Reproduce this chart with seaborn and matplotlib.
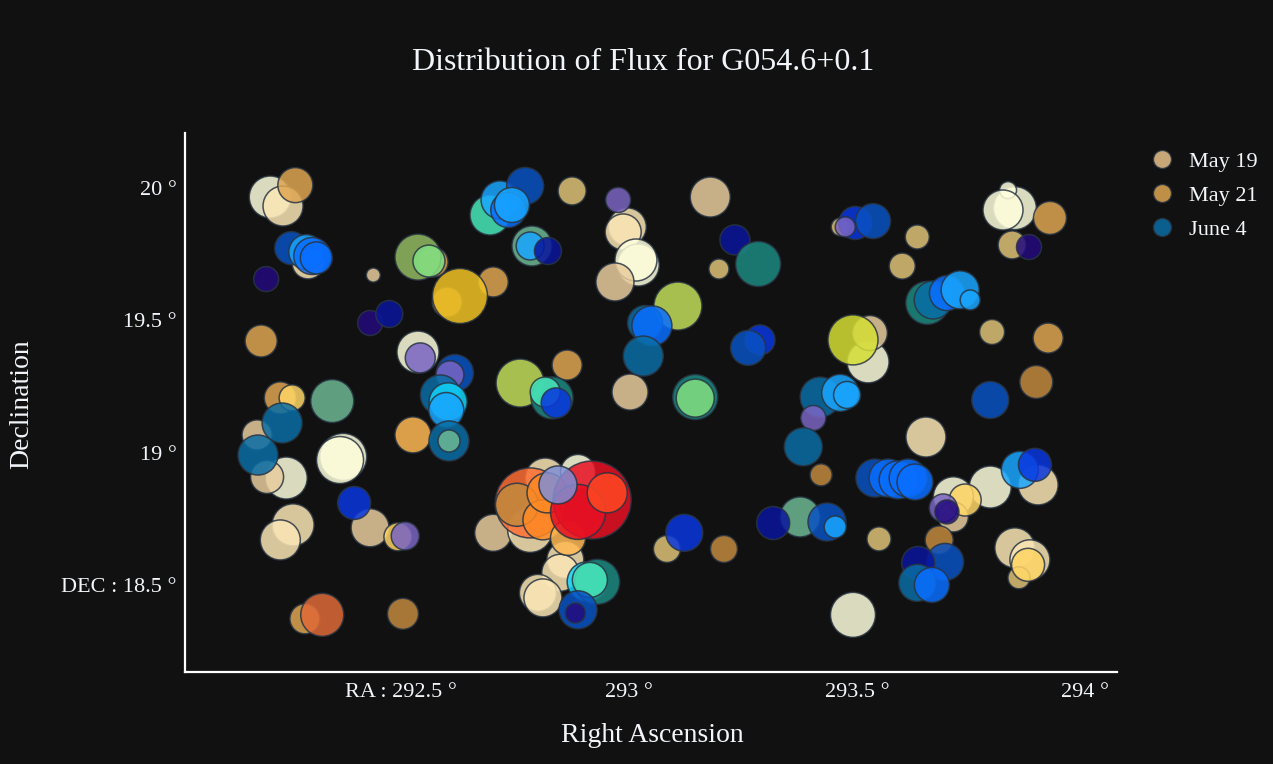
import numpy as np
import pandas as pd
import matplotlib
matplotlib.use("Agg")
import matplotlib.pyplot as plt
from matplotlib.colors import ListedColormap
from matplotlib.lines import Line2D
import seaborn as sns

# ---------------- source catalogue ----------------
# May 19
ra_may19 = [292.213, 292.241, 292.296, 292.439, 292.537, 292.875, 292.996, 292.987, 293.020, 293.015,
            292.969, 293.178, 293.197, 293.002, 293.463, 293.632, 293.599, 293.846, 293.831, 293.820,
            293.840, 293.796, 293.524, 293.528, 292.184, 292.248, 292.206, 292.373, 292.366, 292.432,
            292.263, 292.235, 292.702, 292.816, 292.888, 292.783, 292.860, 292.849, 292.800, 292.811,
            293.083, 293.548, 293.491, 293.651, 293.792, 293.711, 293.711, 293.897, 293.846, 293.879,
            293.855]
dec_may19 = [19.966, 19.932, 19.717, 19.671, 19.380, 19.989, 19.853, 19.834, 19.709, 19.728,
             19.645, 19.966, 19.694, 19.229, 19.853, 19.815, 19.705, 19.924, 19.992, 19.917,
             19.785, 19.456, 19.343, 19.452, 19.067, 18.904, 18.908, 18.984, 18.972, 18.716,
             18.727, 18.670, 18.697, 18.904, 18.927, 18.708, 18.595, 18.546, 18.470, 18.451,
             18.636, 18.674, 18.387, 19.059, 18.870, 18.833, 18.757, 18.878, 18.640, 18.595,
             18.527]
flux_may19 = [21, 20, 16, 7, 21, 14, 19, 18, 21, 21,
              19, 20, 10, 18, 9, 12, 13, 21.5, 8.5, 20,
              14, 12.5, 21, 17.5, 15, 21, 16.5, 23.5, 23.5, 19,
              21, 20, 18.5, 20, 17.5, 22.5, 18.5, 18.5, 18.5, 19,
              13.5, 12, 22.5, 20, 21, 20, 15, 20, 20, 20,
              11]
peak_may19 = [3, 2, 2, 1, 3, 0, 2, 2, 3, 3,
              1, 1, 0, 1, 0, 0, 0, 3, 3, 3,
              0, 0, 3, 1, 1, 3, 1, 3, 3, 1,
              2, 2, 1, 2, 3, 2, 2, 2, 2, 2,
              0, 0, 3, 2, 3, 3, 1, 2, 2, 2,
              0]

# May 21
ra_may21 = [292.268, 292.570, 292.601, 292.702, 292.193, 292.235, 292.261, 292.526, 292.493, 292.289,
            292.327, 292.504, 292.864, 293.923, 293.919, 293.893, 293.421, 293.208, 293.680, 293.737,
            293.875, 292.783, 292.754, 292.811, 292.820, 292.866, 292.919, 292.888, 292.952]
dec_may21 = [20.011, 19.720, 19.569, 19.645, 19.422, 19.207, 19.207, 19.067, 18.682, 18.372,
             18.387, 18.391, 19.331, 19.887, 19.433, 19.267, 18.916, 18.636, 18.670, 18.821,
             18.576, 18.810, 18.803, 18.746, 18.848, 18.678, 18.821, 18.776, 18.848]
flux_may21 = [17.5, 15, 15, 15, 16, 16, 13, 18, 14, 15,
              21.5, 15.5, 15, 16.5, 15, 16.5, 11, 13.5, 14, 16,
              16.5, 35, 21.5, 20, 20, 17.5, 39, 27.5, 20]
peak_may21 = [1, 1, 0, 1, 1, 1, 2, 3, 2, 1,
              4, 0, 1, 1, 1, 0, 0, 0, 0, 2,
              2, 6, 0, 5, 5, 3, 8, 8, 7]

# June 4
ra_jun4 = [292.204, 292.259, 292.292, 292.305, 292.314, 292.537, 292.561, 292.629, 292.432, 292.474,
           292.542, 292.618, 292.607, 292.586, 292.603, 292.599, 292.349, 292.239, 292.186, 292.397,
           292.509, 292.605, 292.605, 292.695, 292.717, 292.772, 292.735, 292.743, 292.787, 292.783,
           292.822, 292.976, 293.232, 293.283, 293.107, 293.035, 293.050, 293.031, 293.145, 293.145,
           292.761, 292.831, 292.816, 292.840, 293.287, 293.261, 293.496, 293.535, 293.474, 293.877,
           293.654, 293.667, 293.697, 293.726, 293.748, 293.491, 293.792, 293.419, 293.463, 293.478,
           293.404, 293.382, 293.375, 293.316, 293.434, 293.452, 293.121, 293.539, 293.568, 293.590,
           293.612, 293.627, 293.689, 293.697, 293.857, 293.890, 293.693, 293.634, 293.632, 293.664,
           292.908, 292.930, 292.914, 292.888, 292.882, 292.844]
dec_jun4 = [19.656, 19.773, 19.758, 19.743, 19.736, 19.739, 19.724, 19.592, 19.490, 19.524,
            19.358, 19.301, 19.294, 19.218, 19.192, 19.161, 19.195, 19.112, 18.991, 18.810,
            18.685, 19.044, 19.044, 19.898, 19.955, 20.008, 19.917, 19.936, 19.781, 19.781,
            19.762, 19.955, 19.804, 19.713, 19.554, 19.490, 19.479, 19.365, 19.210, 19.206,
            19.263, 19.207, 19.229, 19.188, 19.426, 19.396, 19.868, 19.875, 19.853, 19.777,
            19.566, 19.577, 19.603, 19.615, 19.577, 19.426, 19.199, 19.210, 19.226, 19.218,
            19.131, 19.022, 18.757, 18.734, 18.738, 18.719, 18.697, 18.904, 18.904, 18.897,
            18.904, 18.889, 18.791, 18.776, 18.935, 18.954, 18.587, 18.583, 18.508, 18.500,
            18.512, 18.512, 18.519, 18.406, 18.394, 18.878]
flux_jun4 = [12.5, 16.5, 17.5, 18.5, 16, 23, 16, 27.5, 12.5, 13.5,
             15, 18.5, 14, 20, 19, 17.5, 21.5, 20, 20, 16.5,
             14, 20, 11, 20, 19, 18.5, 17.5, 17.5, 20, 14,
             13.5, 12.5, 15, 22.5, 24, 17.5, 20, 20, 22.5, 19,
             24, 21, 15, 15, 15, 17.5, 16.5, 17.5, 10, 12.5,
             21.5, 19, 17.5, 19, 10, 25, 18.5, 20, 18.5, 13.5,
             12.5, 19, 20, 16.5, 19, 11, 18.5, 19, 19, 19,
             19, 18, 14, 12, 18.5, 16.5, 18.5, 16.5, 18.5, 17.5,
             20, 22.5, 17.5, 19, 10, 19]
peak_jun4 = [1, 4, 6, 5, 5, 13, 12, 16, 1, 2,
             0, 4, 0, 7, 8, 6, 10, 7, 7, 3,
             0, 7, 10, 11, 6, 4, 5, 6, 10, 6,
             2, 0, 2, 9, 14, 7, 5, 7, 9, 12,
             14, 9, 11, 3, 3, 4, 3, 4, 0, 1,
             9, 7, 5, 6, 6, 15, 4, 7, 6, 6,
             0, 7, 10, 2, 4, 6, 3, 4, 5, 5,
             5, 5, 0, 1, 6, 3, 4, 2, 7, 5,
             8, 9, 11, 4, 1, 17]

# ---------------- colour scales ----------------
cmap_may19 = ListedColormap(["#dfc377", "#e8cc9d", "#fbe6b5", "#ffffdd"])
cmap_may21 = ListedColormap(["#c38a3f", "#dfa652", "#ffd565", "#ffb952", "#e06a38",
                             "#ff8a23", "#ff6e35", "#ff4823", "#e81023"])
cmap_jun4 = ListedColormap(["#7a65c3", "#230b7e", "#09159d", "#0936df", "#0952c3",
                            "#096eff", "#19a6ff", "#096ea6", "#10d5fb", "#1c8a81",
                            "#6eb994", "#48e8b9", "#81df81", "#93bb63", "#c3df5b",
                            "#d5df35", "#f2c323", "#7f8fd6"])

BG = "#111111"
TXT = "#f2f5fa"
EDGE = "#283442"
ALPHA = 0.85

series = [
    ("May 19", ra_may19, dec_may19, flux_may19, peak_may19, cmap_may19, "#e8c38a"),
    ("May 21", ra_may21, dec_may21, flux_may21, peak_may21, cmap_may21, "#dfa652"),
    ("June 4", ra_jun4, dec_jun4, flux_jun4, peak_jun4, cmap_jun4, "#096ea6"),
]

sns.set_theme(style="dark")
plt.rcParams.update({
    "font.family": ["Liberation Serif", "DejaVu Serif"],
    "text.color": TXT,
    "axes.labelcolor": TXT,
    "xtick.color": TXT,
    "ytick.color": TXT,
})

W, H = 1273, 764
fig = plt.figure(figsize=(W / 100, H / 100), dpi=100, facecolor=BG)
ax = fig.add_axes([185 / W, (H - 672) / H, (1117 - 185) / W, (672 - 133) / H])
ax.set_facecolor(BG)

# marker area grows with flux squared (flux is proportional to bubble diameter)
FLUX_MAX = 40.0
AREA_MAX = (1.44 * FLUX_MAX) ** 2

for name, ra, dec, flux, peak, cmap, _ in series:
    df = pd.DataFrame({"ra": ra, "dec": dec,
                       "area": np.square(np.asarray(flux, dtype=float)),
                       "peak": peak})
    n = len(cmap.colors)
    sns.scatterplot(data=df, x="ra", y="dec", hue="peak", size="area",
                    palette=cmap, hue_norm=(-0.5, n - 0.5),
                    sizes=(0, AREA_MAX), size_norm=(0, FLUX_MAX ** 2),
                    alpha=ALPHA, edgecolor=EDGE, linewidth=1.1,
                    legend=False, ax=ax)

ax.set_xlim(292.026, 294.07)
ax.set_ylim(18.171, 20.208)

ax.set_xticks([292.5, 293, 293.5, 294])
ax.set_xticklabels(["RA : 292.5 °", "293 °", "293.5 °", "294 °"])
ax.set_yticks([18.5, 19, 19.5, 20])
ax.set_yticklabels(["DEC : 18.5 °", "19 °", "19.5 °", "20 °"])
ax.tick_params(axis="both", length=0, labelsize=16, colors=TXT)
ax.tick_params(axis="x", pad=8)
ax.tick_params(axis="y", pad=6)
ax.grid(False)
ax.set_xlabel("")
ax.set_ylabel("")

for side in ("top", "right"):
    ax.spines[side].set_visible(False)
for side in ("left", "bottom"):
    ax.spines[side].set_visible(True)
    ax.spines[side].set_color("white")
    ax.spines[side].set_linewidth(1.6)

fig.text(643 / W, 1 - 62 / H, "Distribution of Flux for G054.6+0.1",
         ha="center", va="center", fontsize=23, color=TXT)
fig.text(652 / W, 1 - 735 / H, "Right Ascension",
         ha="center", va="center", fontsize=20, color=TXT)
fig.text(22 / W, 1 - 404 / H, "Declination", rotation=90,
         ha="center", va="center", fontsize=20, color=TXT)

handles = [Line2D([0], [0], marker="o", linestyle="none", markersize=13,
                  markerfacecolor=col, markeredgecolor=EDGE, alpha=ALPHA)
           for _, _, _, _, _, _, col in series]
labels = [s[0] for s in series]
fig.legend(handles, labels, loc="upper left",
           bbox_to_anchor=(1151 / W, 1 - 151 / H),
           frameon=False, fontsize=16, handlelength=1.0,
           handletextpad=0.7, labelspacing=0.62, borderpad=0,
           borderaxespad=0, labelcolor=TXT)

fig.savefig("out.png", dpi=100, facecolor=BG)
